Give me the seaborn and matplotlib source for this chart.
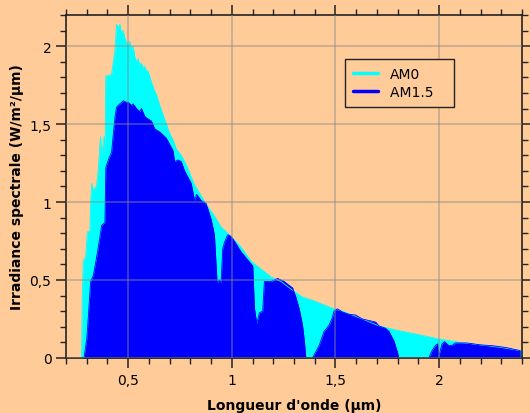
import matplotlib
matplotlib.use("Agg")
import matplotlib.pyplot as plt
import seaborn as sns
import pandas as pd
from matplotlib.ticker import MultipleLocator, FuncFormatter
from matplotlib.lines import Line2D

# AM0 spectrum (wavelength in µm, irradiance in W/m²/µm)
am0_wl = [0.275, 0.278, 0.283, 0.295, 0.303, 0.315, 0.319, 0.324, 0.332, 0.339,
          0.347, 0.355, 0.360, 0.367, 0.372, 0.380, 0.384, 0.388, 0.392, 0.404,
          0.420, 0.428, 0.436, 0.444, 0.452, 0.460, 0.468, 0.476, 0.484, 0.492,
          0.500, 0.508, 0.516, 0.524, 0.532, 0.540, 0.548, 0.556, 0.564, 0.572,
          0.580, 0.588, 0.596, 0.612, 0.628, 0.636, 0.652, 0.668, 0.684, 0.700,
          0.716, 0.732, 0.756, 0.772, 0.788, 0.804, 0.820, 0.852, 0.884, 0.916,
          0.948, 0.996, 1.045, 1.093, 1.141, 1.189, 1.237, 1.277, 1.309, 1.341,
          1.389, 1.445, 1.493, 1.533, 1.629, 1.710, 1.806, 1.900, 1.998, 2.100,
          2.198, 2.300, 2.400]
am0_val = [0.00, 0.36, 0.62, 0.65, 0.81, 0.81, 1.01, 1.12, 1.07, 1.09,
           1.10, 1.20, 1.30, 1.42, 1.30, 1.38, 1.42, 1.30, 1.81, 1.81,
           1.82, 1.90, 1.97, 2.14, 2.12, 2.14, 2.08, 2.10, 2.05, 2.02,
           2.01, 2.03, 1.98, 2.00, 1.93, 1.90, 1.92, 1.88, 1.89, 1.86,
           1.87, 1.84, 1.84, 1.77, 1.71, 1.69, 1.62, 1.56, 1.50, 1.44,
           1.40, 1.34, 1.30, 1.26, 1.215, 1.16, 1.11, 1.04, 0.97, 0.91,
           0.84, 0.78, 0.71, 0.62, 0.57, 0.52, 0.49, 0.45, 0.42, 0.39,
           0.37, 0.34, 0.315, 0.30, 0.25, 0.205, 0.175, 0.15, 0.122, 0.10,
           0.084, 0.067, 0.045]

# AM1.5 spectrum
am15_wl = [0.287, 0.300, 0.307, 0.319, 0.332, 0.347, 0.363, 0.372, 0.388, 0.392,
           0.404, 0.420, 0.428, 0.436, 0.444, 0.460, 0.476, 0.492, 0.500, 0.516,
           0.524, 0.540, 0.556, 0.564, 0.580, 0.588, 0.612, 0.628, 0.652, 0.684,
           0.700, 0.716, 0.724, 0.740, 0.756, 0.772, 0.804, 0.820, 0.830, 0.852,
           0.876, 0.900, 0.916, 0.929, 0.940, 0.948, 0.956, 0.964, 0.980, 0.996,
           1.012, 1.045, 1.076, 1.101, 1.109, 1.120, 1.133, 1.149, 1.157, 1.189,
           1.221, 1.253, 1.277, 1.293, 1.309, 1.325, 1.341, 1.349, 1.357, 1.389,
           1.405, 1.421, 1.445, 1.469, 1.485, 1.493, 1.509, 1.533, 1.565, 1.598,
           1.629, 1.662, 1.694, 1.710, 1.742, 1.758, 1.782, 1.798, 1.806, 1.950,
           1.966, 1.982, 1.993, 1.998, 2.014, 2.025, 2.046, 2.062, 2.078, 2.134,
           2.198, 2.262, 2.326, 2.391]
am15_val = [0.00, 0.12, 0.25, 0.49, 0.53, 0.64, 0.77, 0.85, 0.87, 1.22,
            1.27, 1.32, 1.43, 1.54, 1.61, 1.63, 1.65, 1.64, 1.64, 1.62,
            1.63, 1.60, 1.58, 1.60, 1.55, 1.54, 1.52, 1.47, 1.45, 1.41,
            1.37, 1.33, 1.26, 1.27, 1.26, 1.20, 1.12, 1.01, 1.05, 1.01,
            0.99, 0.89, 0.79, 0.48, 0.50, 0.48, 0.70, 0.74, 0.79, 0.78,
            0.75, 0.68, 0.63, 0.59, 0.32, 0.22, 0.29, 0.30, 0.49, 0.49,
            0.51, 0.49, 0.465, 0.45, 0.39, 0.315, 0.21, 0.12, 0.00, 0.00,
            0.04, 0.08, 0.17, 0.21, 0.26, 0.30, 0.315, 0.295, 0.28, 0.275,
            0.25, 0.24, 0.23, 0.205, 0.19, 0.17, 0.11, 0.04, 0.00, 0.00,
            0.047, 0.08, 0.09, 0.01, 0.09, 0.105, 0.08, 0.08, 0.096, 0.096,
            0.084, 0.078, 0.066, 0.047]

bg = "#FFCC99"
sns.set_theme(style="ticks", rc={"figure.facecolor": bg, "axes.facecolor": bg,
                                 "text.color": "black", "axes.labelcolor": "black",
                                 "xtick.color": "#222222", "ytick.color": "#222222"})
plt.rcParams["font.family"] = ["DejaVu Sans"]

am0 = pd.DataFrame({"wl": am0_wl, "val": am0_val})
am15 = pd.DataFrame({"wl": am15_wl, "val": am15_val})

fig = plt.figure(figsize=(5.3, 4.14), dpi=100)
ax = fig.add_axes([0.1245, 0.133, 0.8605, 0.8284])

ax.fill_between(am0["wl"], 0, am0["val"], color="#00FFFF", lw=0)
sns.lineplot(data=am0, x="wl", y="val", ax=ax, color="#00FFFF", lw=0.6)
ax.fill_between(am15["wl"], 0, am15["val"], color="#0000FF", lw=0)
sns.lineplot(data=am15, x="wl", y="val", ax=ax, color="#0000FF", lw=0.6)

ax.set_xlim(0.2, 2.4)
ax.set_ylim(0, 2.2)
ax.xaxis.set_major_locator(MultipleLocator(0.5))
ax.xaxis.set_minor_locator(MultipleLocator(0.1))
ax.yaxis.set_major_locator(MultipleLocator(0.5))
ax.yaxis.set_minor_locator(MultipleLocator(0.1))
fmt = FuncFormatter(lambda v, p: ("%g" % v).replace(".", ","))
ax.xaxis.set_major_formatter(fmt)
ax.yaxis.set_major_formatter(fmt)

ax.tick_params(which="both", direction="out", top=True, right=True,
               colors="#222222", labelsize=10, labelcolor="black")
ax.tick_params(which="major", length=7, width=1.1)
ax.tick_params(which="minor", length=4.5, width=1.0)
for s in ax.spines.values():
    s.set_visible(True)
    s.set_color("#222222")
    s.set_linewidth(1.2)

ax.grid(True, which="major", color="#888888", alpha=0.55, lw=1.1)
ax.set_axisbelow(False)

ax.set_xlabel("Longueur d'onde (µm)", fontsize=10, fontweight="bold", labelpad=8)
ax.set_ylabel("Irradiance spectrale (W/m²/µm)", fontsize=10, fontweight="bold", labelpad=4)

handles = [Line2D([], [], color="#00FFFF", lw=2.5),
           Line2D([], [], color="#0000FF", lw=2.5)]
leg = ax.legend(handles, ["AM0", "AM1.5   "], loc="upper left",
                bbox_to_anchor=(0.612, 0.873), fontsize=10, fancybox=False,
                frameon=True, handlelength=1.8, handletextpad=0.8,
                borderpad=0.6, labelspacing=0.3, borderaxespad=0)
leg.get_frame().set_edgecolor("#222222")
leg.get_frame().set_facecolor(bg)
leg.get_frame().set_alpha(1)
leg.get_frame().set_linewidth(1.0)
leg.get_frame().set_boxstyle("square", pad=0)

fig.savefig("out.png", dpi=100, facecolor=bg)
